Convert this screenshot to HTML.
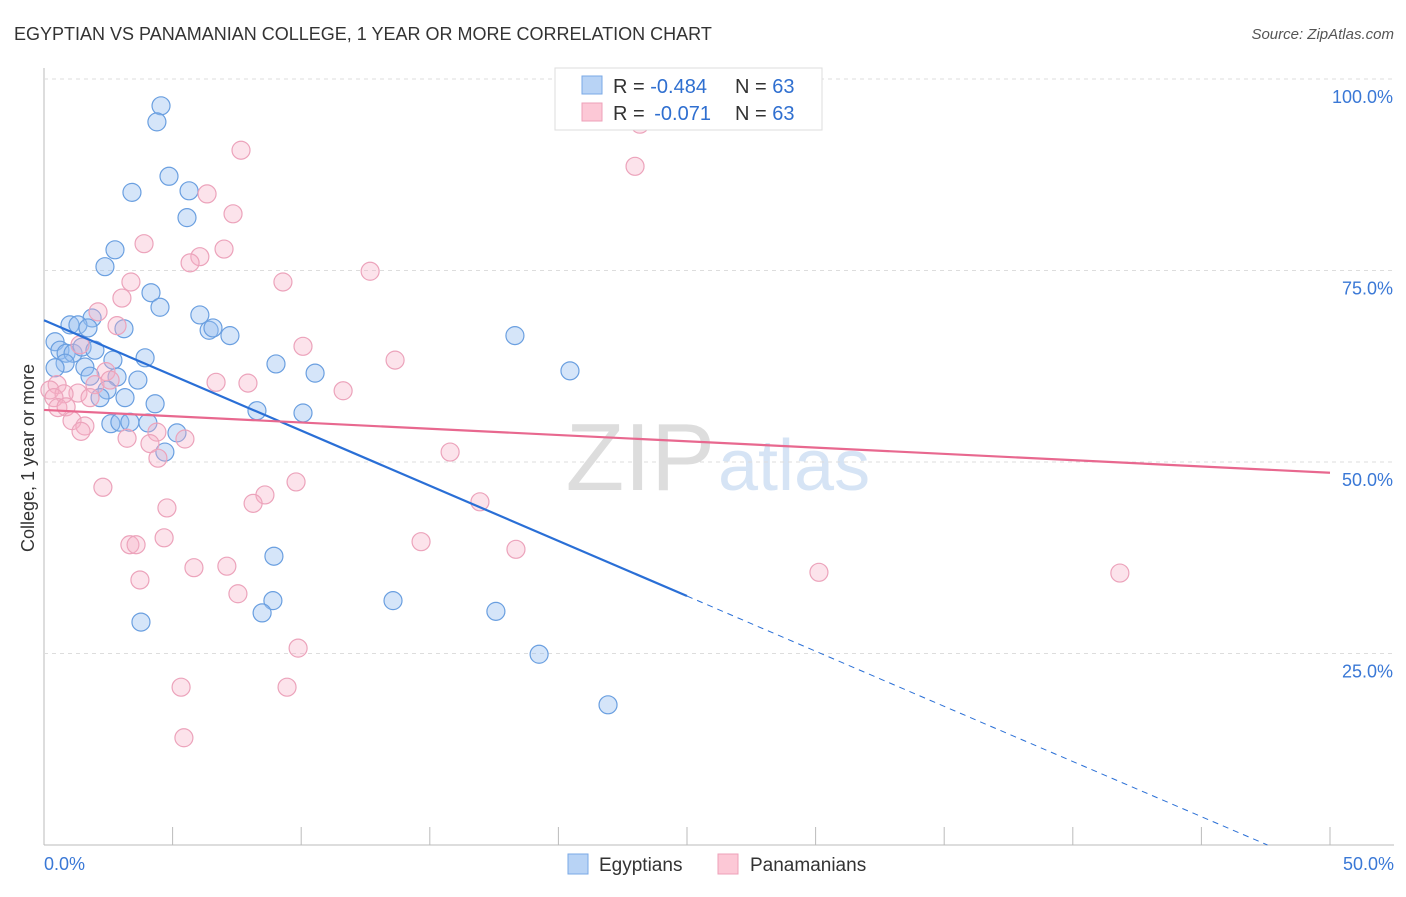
<!DOCTYPE html>
<html><head><meta charset="utf-8"><style>
body{margin:0;background:#fff;font-family:"Liberation Sans",sans-serif;}
svg text{font-family:"Liberation Sans",sans-serif;}
</style></head><body>
<svg id="chart" width="1406" height="892">
<text x="14" y="40" font-size="18" fill="#333">EGYPTIAN VS PANAMANIAN COLLEGE, 1 YEAR OR MORE CORRELATION CHART</text>
<text x="1394" y="39" font-size="15" fill="#555" font-style="italic" text-anchor="end">Source: ZipAtlas.com</text>
<text x="715" y="490" font-size="96" fill="#ddd" text-anchor="end" font-family="Liberation Serif">ZIP</text>
<text x="718" y="490" font-size="72" fill="#d6e4f5">atlas</text>
<g id="grid"></g><g id="pts"></g><g id="lines"></g>
<text transform="translate(34,458) rotate(-90)" font-size="18" fill="#333" text-anchor="middle">College, 1 year or more</text>
<g>
<rect x="555" y="68" width="267" height="62" fill="#fff" stroke="#ddd"/>
<rect x="582" y="76" width="20" height="18" fill="#b8d3f5" stroke="#7aa8e6"/>
<rect x="582" y="103" width="20" height="18" fill="#fcc8d6" stroke="#eea0b8"/>
<text x="613" y="93" font-size="20" fill="#333">R = <tspan fill="#2f6fd0">-0.484</tspan><tspan x="735">N = </tspan><tspan fill="#2f6fd0">63</tspan></text>
<text x="613" y="120" font-size="20" fill="#333">R = <tspan fill="#2f6fd0" dx="4">-0.071</tspan><tspan x="735">N = </tspan><tspan fill="#2f6fd0">63</tspan></text>
</g>
<g>
<rect x="568" y="854" width="20" height="20" fill="#b8d3f5" stroke="#7aa8e6"/>
<text x="599" y="871" font-size="19" fill="#333">Egyptians</text>
<rect x="718" y="854" width="20" height="20" fill="#fcc8d6" stroke="#eea0b8"/>
<text x="750" y="871" font-size="19" fill="#333">Panamanians</text>
</g>
</svg>
<script>
const yTicks=[25,50,75,100];
const yTickLabels=["25.0%","50.0%","75.0%","100.0%"];
const xTickLabels=["0.0%","50.0%"];
const blueX=[4.55,4.39,4.86,3.42,5.64,5.56,2.76,2.37,4.16,4.51,6.06,6.42,6.57,7.23,18.31,3.11,1.87,1.01,1.32,1.71,0.43,0.62,0.86,1.13,1.48,1.98,2.68,3.93,0.82,1.59,0.43,1.79,2.84,3.65,2.45,2.18,3.15,4.32,2.6,2.95,3.34,4.04,5.17,4.7,8.28,10.07,9.02,10.54,20.45,8.94,8.9,8.48,13.57,17.57,19.25,21.93,3.77];
const blueY=[96.5,94.4,87.3,85.2,85.4,81.9,77.7,75.5,72.1,70.2,69.2,67.2,67.5,66.5,66.5,67.4,68.8,67.9,67.9,67.5,65.7,64.6,64.2,64.2,65.0,64.6,63.3,63.6,62.9,62.4,62.3,61.2,61.1,60.7,59.4,58.4,58.4,57.6,55.0,55.2,55.2,55.1,53.8,51.3,56.7,56.4,62.8,61.6,61.9,37.7,31.9,30.3,31.9,30.5,24.9,18.3,29.1];
const pinkX=[7.66,23.17,22.98,6.34,7.35,3.89,7.0,6.06,5.68,12.68,9.29,3.38,3.03,2.1,2.84,10.07,13.65,1.4,2.41,1.98,2.57,6.69,7.93,0.51,0.23,1.32,0.78,11.63,1.79,0.39,0.54,0.86,1.09,1.59,1.44,4.39,4.12,5.48,3.23,4.43,15.79,16.95,9.8,8.59,8.13,2.29,4.78,4.67,14.66,18.35,3.34,3.58,3.73,5.83,7.11,7.54,9.88,5.33,9.45,5.44,30.13,41.83];
const pinkY=[90.7,94.1,88.6,85.0,82.4,78.5,77.8,76.8,76.0,74.9,73.5,73.5,71.4,69.6,67.8,65.1,63.3,65.3,61.8,60.1,60.7,60.4,60.3,60.1,59.4,59.0,58.9,59.3,58.4,58.4,57.1,57.2,55.4,54.7,54.0,53.9,52.4,53.0,53.1,50.5,51.3,44.8,47.4,45.7,44.6,46.7,44.0,40.1,39.6,38.6,39.2,39.2,34.6,36.2,36.4,32.8,25.7,20.6,20.6,14.0,35.6,35.5];
const blueTrend=[68.5,32.5]; // at x=0 and x=25
const pinkTrend=[56.8,48.6]; // at x=0 and x=50
const NS="http://www.w3.org/2000/svg";
const sx=v=>44+v/50*1286, sy=v=>845-v/100*766;
function mk(t,a,p){const e=document.createElementNS(NS,t);for(const k in a)e.setAttribute(k,a[k]);p.appendChild(e);return e;}
const g=document.getElementById('grid');
let ax=mk('line',{x1:44,y1:68,x2:44,y2:845,stroke:'#bbb'},g);


let bx=mk('line',{x1:44,y1:845,x2:1394,y2:845,stroke:'#bbb'},g);


yTicks.forEach((t,i)=>{
 const l=mk('line',{x1:44,x2:1394,y1:sy(t),y2:sy(t),stroke:'#ddd','stroke-dasharray':'4,4'},g);
 
 
 const tx=mk('text',{x:1393,y:sy(t)+24,'font-size':18,fill:'#3a78d6','text-anchor':'end'},g);
 tx.textContent=yTickLabels[i];
 
 
});
for(let i=0;i<=10;i++){
 const t=mk('line',{x1:sx(i*5),x2:sx(i*5),y1:827,y2:845,stroke:'#bbb'},g);
 
 
}
[[0,'start',44],[50,'end',1394]].forEach((d,i)=>{
 const tx=mk('text',{x:d[2],y:870,'font-size':18,fill:'#3a78d6','text-anchor':d[1]},g);
 tx.textContent=xTickLabels[i];
 
 
});
const P=document.getElementById('pts');
blueX.forEach((x,i)=>{
 const c=mk('circle',{cx:sx(x),cy:sy(blueY[i]),r:9,fill:'rgba(150,190,240,0.4)',stroke:'#6a9fe0','stroke-width':1.2},P);
 
 
});
pinkX.forEach((x,i)=>{
 const c=mk('circle',{cx:sx(x),cy:sy(pinkY[i]),r:9,fill:'rgba(245,175,198,0.35)',stroke:'#eca3bb','stroke-width':1.2},P);
 
 
});
const L=document.getElementById('lines');
const slope=(blueTrend[1]-blueTrend[0])/25, x0=-blueTrend[0]/slope;
let b1=mk('line',{x1:sx(0),y1:sy(blueTrend[0]),x2:sx(25),y2:sy(blueTrend[1]),stroke:'#2a6fd6','stroke-width':2.2},L);


let b2=mk('line',{x1:sx(25),y1:sy(blueTrend[1]),x2:sx(x0),y2:sy(0),stroke:'#2a6fd6','stroke-width':1,'stroke-dasharray':'6,5'},L);


let p1=mk('line',{x1:sx(0),y1:sy(pinkTrend[0]),x2:sx(50),y2:sy(pinkTrend[1]),stroke:'#e8688f','stroke-width':2.2},L);


</script>
</body></html>
